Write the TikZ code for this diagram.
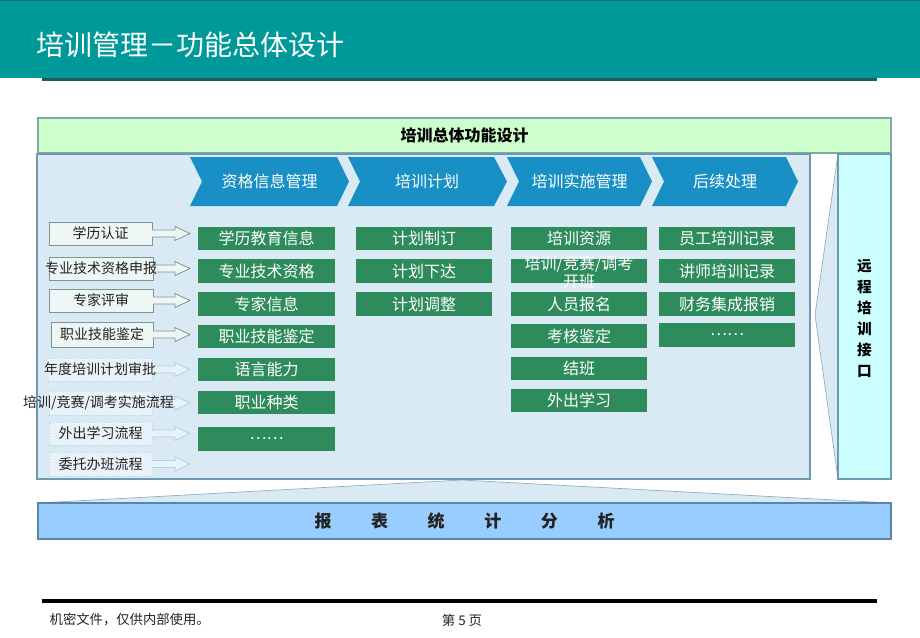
\documentclass[tikz,border=0pt]{standalone}
\usepackage{fontspec}
\setmainfont{Noto Sans CJK SC}
\usetikzlibrary{fit,calc}
\definecolor{tealband}{HTML}{009999}
\definecolor{hdrline}{HTML}{1F5B61}
\definecolor{bannerfill}{HTML}{CCFFCC}
\definecolor{bannerdraw}{HTML}{7FA9A9}
\definecolor{panelfill}{HTML}{DAEAF4}
\definecolor{paneldraw}{HTML}{6F99B2}
\definecolor{chevfill}{HTML}{1890C6}
\definecolor{gfill}{HTML}{2E8B5C}
\definecolor{lboxfill}{HTML}{EEF6F4}
\definecolor{lboxdraw}{HTML}{7C9696}
\definecolor{dotdraw}{HTML}{A6D5E3}
\definecolor{cyanfill}{HTML}{CCFFFF}
\definecolor{barfill}{HTML}{99CCFF}
\definecolor{bardraw}{HTML}{5A86A6}
\definecolor{txtdark}{HTML}{222222}
\tikzset{
  rectbox/.style={inner sep=0pt, outer sep=0pt},
  gbox/.style={rectbox, fill=gfill},
  gtext/.style={text=white, align=center, font=\fontsize{12}{13.5}\selectfont},
  chevshape/.style={fill=chevfill},
  chevtext/.style={text=white, font=\fontsize{12}{14}\selectfont},
  lbox/.style={rectbox, draw=lboxdraw, fill=lboxfill},
  dbox/.style={rectbox, draw=dotdraw, dotted, fill=panelfill!60!white},
  ltext/.style={text=txtdark, font=\fontsize{10.5}{12}\selectfont},
  hollowarr/.style={to path={let \p1=(\tikztostart), \p2=(\tikztotarget) in
    (\x1,\y1+2.6pt) -- (\x2-17.25pt,\y1+2.6pt) -- (\x2-17.25pt,\y1+5.25pt) --
    (\x2-6pt,\y1) -- (\x2-17.25pt,\y1-5.25pt) -- (\x2-17.25pt,\y1-2.6pt) --
    (\x1,\y1-2.6pt)}},
  solarr/.style={hollowarr, draw=lboxdraw, fill=lboxfill, line width=0.6pt},
  dotarr/.style={hollowarr, draw=dotdraw, fill=panelfill!60!white, line width=0.6pt},
}
\begin{document}
\begin{tikzpicture}[x=0.75pt,y=-0.75pt]
\useasboundingbox (0,0) rectangle (920,637);
\fill[white] (0,0) rectangle (920,637);
% header
\fill[tealband] (0,0) rectangle (920,78);
\draw[hdrline!70!tealband, line width=0.75pt] (0,0.5) -- (920,0.5);
\fill[hdrline] (42,78) rectangle (877,81);
\node[anchor=west, text=white, font=\fontsize{21}{21}\selectfont] (title) at (32,45) {培训管理－功能总体设计};
% banner
\node[rectbox, fit={(38,118)(891,153)}, draw=bannerdraw, fill=bannerfill, line width=0.8pt,
      label={[font=\bfseries\fontsize{12}{14}\selectfont]center:培训总体功能设计}] (banner) {};
% main panel
\node[rectbox, fit={(37,154)(810,479)}, draw=paneldraw, fill=panelfill, line width=0.8pt] (panel) {};
% remote interface
\filldraw[fill=panelfill, draw=paneldraw!80!white, line width=0.5pt] (838,154) -- (815,315) -- (838,479) -- cycle;
\node[rectbox, fit={(838,154)(891,479)}, draw=paneldraw, fill=cyanfill, line width=0.8pt,
      label={[align=center, font=\bfseries\fontsize{11}{15.75}\selectfont, yshift=-1.5pt]center:远\\程\\培\\训\\接\\口}] (remote) {};
% chevrons
\fill[chevshape] (190,157) -- (337,157) -- (349,181.5) -- (337,206) -- (190,206) -- (202,181.5) -- cycle;
\fill[chevshape] (348,157) -- (494,157) -- (507,181.5) -- (494,206) -- (348,206) -- (360,181.5) -- cycle;
\fill[chevshape] (507,157) -- (640,157) -- (652,181.5) -- (640,206) -- (507,206) -- (519,181.5) -- cycle;
\fill[chevshape] (652,157) -- (786,157) -- (798,181.5) -- (786,206) -- (652,206) -- (664,181.5) -- cycle;
\node[chevtext] (ch1) at (269.5,181.5) {资格信息管理};
\node[chevtext] (ch2) at (427,181.5) {培训计划};
\node[chevtext] (ch3) at (579.5,181.5) {培训实施管理};
\node[chevtext] (ch4) at (725,181.5) {后续处理};
% column 1
\node[gbox, fit={(198,227)(335,250)}, label={[gtext]center:学历教育信息}] (a1) {};
\node[gbox, fit={(198,259)(335,283)}, label={[gtext]center:专业技术资格}] (a2) {};
\node[gbox, fit={(198,292)(335,316)}, label={[gtext]center:专家信息}] (a3) {};
\node[gbox, fit={(198,325)(335,348)}, label={[gtext]center:职业技能鉴定}] (a4) {};
\node[gbox, fit={(198,358)(335,381)}, label={[gtext]center:语言能力}] (a5) {};
\node[gbox, fit={(198,391)(335,414)}, label={[gtext]center:职业种类}] (a6) {};
\node[gbox, fit={(198,427)(335,451)}, label={[gtext]center:……}] (a7) {};
% column 2
\node[gbox, fit={(356,227)(492,250)}, label={[gtext]center:计划制订}] (b1) {};
\node[gbox, fit={(356,259)(492,283)}, label={[gtext]center:计划下达}] (b2) {};
\node[gbox, fit={(356,292)(492,316)}, label={[gtext]center:计划调整}] (b3) {};
% column 3
\node[gbox, fit={(511,227)(647,250)}, label={[gtext]center:培训资源}] (c1) {};
\node[gbox, fit={(511,259)(647,283)}, label={[gtext, yshift=-1pt]center:培训/竞赛/调考\\开班}] (c2) {};
\node[gbox, fit={(511,292)(647,316)}, label={[gtext]center:人员报名}] (c3) {};
\node[gbox, fit={(511,324)(647,348)}, label={[gtext]center:考核鉴定}] (c4) {};
\node[gbox, fit={(511,357)(647,380)}, label={[gtext]center:结班}] (c5) {};
\node[gbox, fit={(511,389)(647,412)}, label={[gtext]center:外出学习}] (c6) {};
% column 4
\node[gbox, fit={(659,227)(795,250)}, label={[gtext]center:员工培训记录}] (d1) {};
\node[gbox, fit={(659,259)(795,283)}, label={[gtext]center:讲师培训记录}] (d2) {};
\node[gbox, fit={(659,292)(795,316)}, label={[gtext]center:财务集成报销}] (d3) {};
\node[gbox, fit={(659,323)(795,347)}, label={[gtext]center:……}] (d4) {};
% left process boxes
\node[lbox, fit={(49,222)(152,245)}] (l1) {};
\node[lbox, fit={(49,257)(153,280)}] (l2) {};
\node[lbox, fit={(49,289)(153,312)}] (l3) {};
\node[lbox, fit={(51,322)(153,347)}] (l4) {};
\node[dbox, fit={(48,358)(152,381)}] (l5) {};
\node[dbox, fit={(49,391)(152,415)}] (l6) {};
\node[dbox, fit={(49,422)(152,445)}] (l7) {};
\node[dbox, fit={(49,452)(152,476)}] (l8) {};
\coordinate (t8) at (198,464);
% arrows
\filldraw[solarr] (l1.east) to (a1.west);
\filldraw[solarr] (l2.east) to (a2.west);
\filldraw[solarr] (l3.east) to (a3.west);
\filldraw[solarr] (l4.east) to (a4.west);
\filldraw[dotarr] (l5.east) to (a5.west);
\filldraw[dotarr] (l6.east) to (a6.west);
\filldraw[dotarr] (l7.east) to (a7.west);
\filldraw[dotarr] (l8.east) to (t8);
% left box texts (above arrows)
\node[ltext] (l1t) at (l1) {学历认证};
\node[ltext] (l2t) at (l2) {专业技术资格申报};
\node[ltext] (l3t) at (l3) {专家评审};
\node[ltext] (l4t) at (l4) {职业技能鉴定};
\node[ltext] (l5t) at (l5) {年度培训计划审批};
\node[ltext, xshift=-1.5pt] (l6t) at (l6) {培训/竞赛/调考实施流程};
\node[ltext] (l7t) at (l7) {外出学习流程};
\node[ltext] (l8t) at (l8) {委托办班流程};
% bottom report bar
\filldraw[fill=panelfill, draw=paneldraw!80!white, line width=0.5pt] (38,503) -- (462,480) -- (891,503) -- cycle;
\node[rectbox, fit={(38,503)(891,539)}, draw=bardraw, fill=barfill, line width=0.8pt] (bar) {};
\node[font=\bfseries\fontsize{12.75}{14}\selectfont, text=txtdark] (bart) at (bar)
      {报\hspace{29.7pt}表\hspace{29.7pt}统\hspace{29.7pt}计\hspace{29.7pt}分\hspace{29.7pt}析};
% footer
\draw[black, line width=3pt] (42,601) -- (877,601);
\node[anchor=west, text=txtdark, font=\fontsize{10}{12}\selectfont] (foot1) at (45,620) {机密文件，仅供内部使用。};
\node[text=txtdark, font=\fontsize{10}{12}\selectfont] (foot2) at (462,620) {第 5 页};
\end{tikzpicture}
\end{document}
